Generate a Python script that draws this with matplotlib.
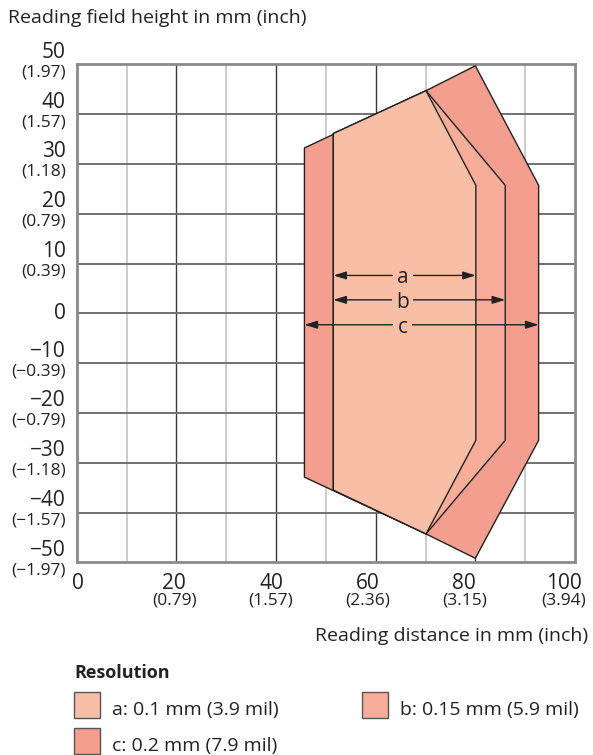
import matplotlib
matplotlib.use("Agg")
import matplotlib.pyplot as plt
from matplotlib.patches import Polygon, Rectangle
from matplotlib.transforms import offset_copy

plt.rcParams['font.family'] = ['Open Sans', 'DejaVu Sans']

# ---------------- data ----------------
# Reading field polygons (distance mm, height mm)
a_x = [51.5, 70.1, 80.1, 80.1, 70.1, 51.5]
a_y = [36.1, 44.7, 25.7, -25.5, -44.3, -35.5]
b_x = [51.5, 70.1, 86.0, 86.0, 70.1, 51.5]
b_y = [36.1, 44.7, 25.7, -25.5, -44.3, -35.5]
c_x = [45.7, 70.1, 80.0, 92.7, 92.7, 80.0, 70.1, 45.7]
c_y = [33.2, 44.7, 49.7, 25.7, -25.5, -49.2, -44.3, -32.9]

# dimension arrows: label, x start, x end, y
arrow_labels = ["a", "b", "c"]
arrow_start = [51.5, 51.5, 45.7]
arrow_end = [80.1, 86.0, 92.7]
arrow_y = [7.6, 2.7, -2.3]
arrow_label_x = 65.4

x_ticks = [0, 20, 40, 60, 80, 100]
x_tick_inch = ["", "(0.79)", "(1.57)", "(2.36)", "(3.15)", "(3.94)"]
y_ticks = [50, 40, 30, 20, 10, 0, -10, -20, -30, -40, -50]
y_tick_inch = ["(1.97)", "(1.57)", "(1.18)", "(0.79)", "(0.39)", "",
               "(\u22120.39)", "(\u22120.79)", "(\u22121.18)", "(\u22121.57)", "(\u22121.97)"]

legend_title = "Resolution"
legend_labels = ["a: 0.1 mm (3.9 mil)", "b: 0.15 mm (5.9 mil)", "c: 0.2 mm (7.9 mil)"]

# ---------------- style ----------------
col_a = "#f9bfa6"
col_b = "#f7ad97"
col_c = "#f39e8e"
edge = "#222222"
text_col = "#222222"
x_label_shift_px = [1, -2, -5, -8, -11, -11]
fs_title = 14.0
fs_mm = 15.0
fs_inch = 12.5

W, H = 593, 755
fig = plt.figure(figsize=(W / 100, H / 100), dpi=100)

def fx(px):
    return px / W

def fy(py):
    return 1 - py / H

ax_l, ax_r, ax_t, ax_b = 76.7, 575.0, 64.3, 562.3
ax = fig.add_axes([fx(ax_l), fy(ax_b), fx(ax_r - ax_l), (ax_b - ax_t) / H])
ax.set_xlim(0, 100)
ax.set_ylim(-50, 50)

# grid
for v in range(10, 100, 10):
    if v % 20 == 0:
        ax.axvline(v, color="#3a3a3a", lw=1.0, zorder=1)
    else:
        ax.axvline(v, color="#c8c8c8", lw=1.3, zorder=1)
for v in range(-40, 50, 10):
    ax.axhline(v, color="#707070", lw=1.4, zorder=1)
for s in ax.spines.values():
    s.set_color("#8a8a8a")
    s.set_linewidth(2.0)
ax.set_xticks([])
ax.set_yticks([])

# polygons
ax.add_patch(Polygon(list(zip(c_x, c_y)), closed=True, facecolor=col_c,
                     edgecolor=edge, lw=1.0, zorder=3))
ax.add_patch(Polygon(list(zip(b_x, b_y)), closed=True, facecolor=col_b,
                     edgecolor=edge, lw=1.0, zorder=4))
ax.add_patch(Polygon(list(zip(a_x, a_y)), closed=True, facecolor=col_a,
                     edgecolor=edge, lw=1.0, zorder=5))

# arrows
for lab, x0, x1, y in zip(arrow_labels, arrow_start, arrow_end, arrow_y):
    ax.annotate("", xy=(x1, y), xytext=(x0, y),
                arrowprops=dict(arrowstyle="<|-|>,head_length=0.55,head_width=0.17",
                                color=edge, lw=1.0, shrinkA=0, shrinkB=0,
                                mutation_scale=14), zorder=6)
    ax.text(arrow_label_x, y, lab, ha="center", va="center_baseline",
            fontsize=fs_mm, color=text_col, zorder=7,
            bbox=dict(boxstyle="square,pad=0.2", fc=col_a, ec="none"))

# y tick labels
ytr = ax.get_yaxis_transform()
for v, inch in zip(y_ticks, y_tick_inch):
    if inch:
        t1 = offset_copy(ytr, fig=fig, x=-11, y=6.5, units="dots")
        ax.text(0, v, f"{v}".replace("-", "\u2212"), transform=t1, ha="right",
                va="baseline", fontsize=fs_mm, color=text_col, clip_on=False)
        t2 = offset_copy(ytr, fig=fig, x=-11, y=-12, units="dots")
        ax.text(0, v, inch, transform=t2, ha="right", va="baseline",
                fontsize=fs_inch, color=text_col, clip_on=False)
    else:
        t1 = offset_copy(ytr, fig=fig, x=-11, y=-5.5, units="dots")
        ax.text(0, v, f"{v}", transform=t1, ha="right", va="baseline",
                fontsize=fs_mm, color=text_col, clip_on=False)

# x tick labels
xtr = ax.get_xaxis_transform()
for v, inch, dx in zip(x_ticks, x_tick_inch, x_label_shift_px):
    t1 = offset_copy(xtr, fig=fig, x=dx, y=-27, units="dots")
    ax.text(v, 0, f"{v}", transform=t1, ha="center", va="baseline",
            fontsize=fs_mm, color=text_col, clip_on=False)
    if inch:
        t2 = offset_copy(xtr, fig=fig, x=dx, y=-42, units="dots")
        ax.text(v, 0, inch, transform=t2, ha="center", va="baseline",
                fontsize=fs_inch, color=text_col, clip_on=False)

# axis titles
fig.text(fx(8), fy(23.3), "Reading field height in mm (inch)", ha="left",
         va="baseline", fontsize=fs_title, color=text_col)
fig.text(fx(588), fy(641), "Reading distance in mm (inch)", ha="right",
         va="baseline", fontsize=fs_title, color=text_col)

# legend
fig.text(fx(74), fy(677.5), legend_title, ha="left", va="baseline",
         fontsize=13, fontweight="bold", color=text_col)
leg_pos = [(73.5, 691.7), (361.7, 691.7), (73.5, 727.5)]
for (px, py), lab, col in zip(leg_pos, legend_labels, [col_a, col_b, col_c]):
    fig.add_artist(Rectangle((fx(px), fy(py + 26.5)), 26.5 / W, 26.5 / H,
                             transform=fig.transFigure, facecolor=col,
                             edgecolor="#555555", lw=1.0))
    fig.text(fx(px + 38), fy(py + 23.5), lab, ha="left", va="baseline",
             fontsize=fs_title, color=text_col)

fig.savefig("out.png", dpi=100)
